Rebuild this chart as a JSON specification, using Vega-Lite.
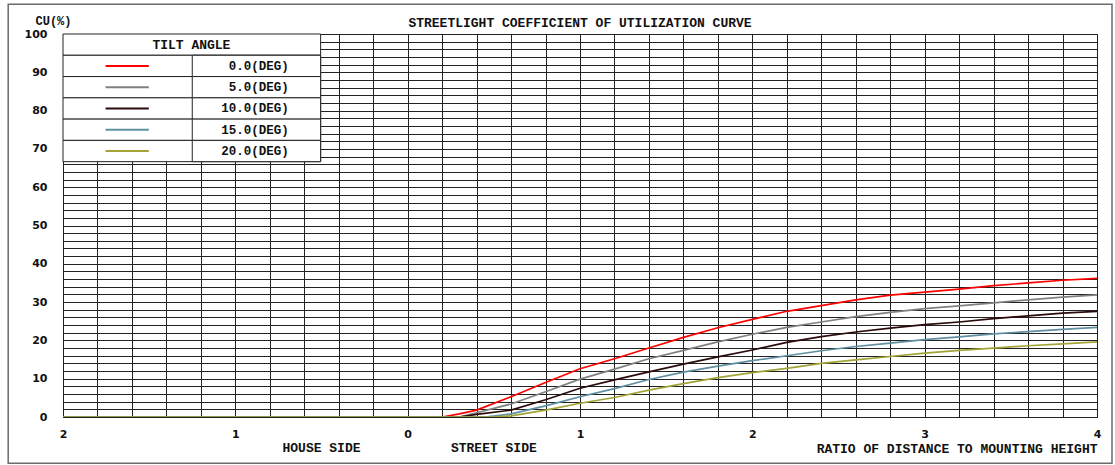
{
  "$schema": "https://vega.github.io/schema/vega-lite/v6.json",
  "width": 1034,
  "height": 383,
  "autosize": {"type": "none"},
  "padding": {"left": 63, "top": 34, "right": 18, "bottom": 48},
  "background": "white",
  "title": {
    "text": "STREETLIGHT COEFFICIENT OF UTILIZATION CURVE",
    "font": "Liberation Mono",
    "fontSize": 13,
    "fontWeight": "bold",
    "color": "#111",
    "anchor": "middle",
    "frame": "group",
    "offset": 4,
    "dy": 30.5
  },
  "datasets": {
    "curves": [
      {"angle": "0.0(DEG)", "d": -2, "cu": 0},
      {"angle": "0.0(DEG)", "d": 0.2, "cu": 0},
      {"angle": "0.0(DEG)", "d": 0.3, "cu": 0.8},
      {"angle": "0.0(DEG)", "d": 0.4, "cu": 1.8},
      {"angle": "0.0(DEG)", "d": 0.6, "cu": 5.3},
      {"angle": "0.0(DEG)", "d": 0.8, "cu": 9.0},
      {"angle": "0.0(DEG)", "d": 1.0, "cu": 12.6},
      {"angle": "0.0(DEG)", "d": 1.2, "cu": 15.2},
      {"angle": "0.0(DEG)", "d": 1.4, "cu": 18.0},
      {"angle": "0.0(DEG)", "d": 1.6, "cu": 20.8},
      {"angle": "0.0(DEG)", "d": 1.8, "cu": 23.3},
      {"angle": "0.0(DEG)", "d": 2.0, "cu": 25.5},
      {"angle": "0.0(DEG)", "d": 2.2, "cu": 27.6},
      {"angle": "0.0(DEG)", "d": 2.4, "cu": 29.1},
      {"angle": "0.0(DEG)", "d": 2.6, "cu": 30.6},
      {"angle": "0.0(DEG)", "d": 2.8, "cu": 31.8},
      {"angle": "0.0(DEG)", "d": 3.0, "cu": 32.6},
      {"angle": "0.0(DEG)", "d": 3.2, "cu": 33.4},
      {"angle": "0.0(DEG)", "d": 3.4, "cu": 34.3},
      {"angle": "0.0(DEG)", "d": 3.6, "cu": 35.0},
      {"angle": "0.0(DEG)", "d": 3.8, "cu": 35.7},
      {"angle": "0.0(DEG)", "d": 4.0, "cu": 36.2},
      {"angle": "5.0(DEG)", "d": -2, "cu": 0},
      {"angle": "5.0(DEG)", "d": 0.3, "cu": 0},
      {"angle": "5.0(DEG)", "d": 0.4, "cu": 1.1},
      {"angle": "5.0(DEG)", "d": 0.6, "cu": 3.4},
      {"angle": "5.0(DEG)", "d": 0.8, "cu": 6.6},
      {"angle": "5.0(DEG)", "d": 1.0, "cu": 9.9},
      {"angle": "5.0(DEG)", "d": 1.2, "cu": 12.5},
      {"angle": "5.0(DEG)", "d": 1.4, "cu": 15.2},
      {"angle": "5.0(DEG)", "d": 1.6, "cu": 17.4},
      {"angle": "5.0(DEG)", "d": 1.8, "cu": 19.6},
      {"angle": "5.0(DEG)", "d": 2.0, "cu": 21.6},
      {"angle": "5.0(DEG)", "d": 2.2, "cu": 23.4},
      {"angle": "5.0(DEG)", "d": 2.4, "cu": 24.8},
      {"angle": "5.0(DEG)", "d": 2.6, "cu": 26.2},
      {"angle": "5.0(DEG)", "d": 2.8, "cu": 27.3},
      {"angle": "5.0(DEG)", "d": 3.0, "cu": 28.3},
      {"angle": "5.0(DEG)", "d": 3.2, "cu": 29.0},
      {"angle": "5.0(DEG)", "d": 3.4, "cu": 29.8},
      {"angle": "5.0(DEG)", "d": 3.6, "cu": 30.6},
      {"angle": "5.0(DEG)", "d": 3.8, "cu": 31.3},
      {"angle": "5.0(DEG)", "d": 4.0, "cu": 31.9},
      {"angle": "10.0(DEG)", "d": -2, "cu": 0},
      {"angle": "10.0(DEG)", "d": 0.3, "cu": 0},
      {"angle": "10.0(DEG)", "d": 0.4, "cu": 0.7},
      {"angle": "10.0(DEG)", "d": 0.6, "cu": 1.8},
      {"angle": "10.0(DEG)", "d": 0.8, "cu": 4.5},
      {"angle": "10.0(DEG)", "d": 1.0, "cu": 7.5},
      {"angle": "10.0(DEG)", "d": 1.2, "cu": 9.7},
      {"angle": "10.0(DEG)", "d": 1.4, "cu": 11.8},
      {"angle": "10.0(DEG)", "d": 1.6, "cu": 13.8},
      {"angle": "10.0(DEG)", "d": 1.8, "cu": 15.7},
      {"angle": "10.0(DEG)", "d": 2.0, "cu": 17.5},
      {"angle": "10.0(DEG)", "d": 2.2, "cu": 19.5},
      {"angle": "10.0(DEG)", "d": 2.4, "cu": 21.0},
      {"angle": "10.0(DEG)", "d": 2.6, "cu": 22.2},
      {"angle": "10.0(DEG)", "d": 2.8, "cu": 23.2},
      {"angle": "10.0(DEG)", "d": 3.0, "cu": 24.1},
      {"angle": "10.0(DEG)", "d": 3.2, "cu": 24.8},
      {"angle": "10.0(DEG)", "d": 3.4, "cu": 25.7},
      {"angle": "10.0(DEG)", "d": 3.6, "cu": 26.4},
      {"angle": "10.0(DEG)", "d": 3.8, "cu": 27.1},
      {"angle": "10.0(DEG)", "d": 4.0, "cu": 27.6},
      {"angle": "15.0(DEG)", "d": -2, "cu": 0},
      {"angle": "15.0(DEG)", "d": 0.45, "cu": 0},
      {"angle": "15.0(DEG)", "d": 0.6, "cu": 0.8},
      {"angle": "15.0(DEG)", "d": 0.8, "cu": 2.9},
      {"angle": "15.0(DEG)", "d": 1.0, "cu": 5.3},
      {"angle": "15.0(DEG)", "d": 1.2, "cu": 7.4},
      {"angle": "15.0(DEG)", "d": 1.4, "cu": 9.8},
      {"angle": "15.0(DEG)", "d": 1.6, "cu": 11.7},
      {"angle": "15.0(DEG)", "d": 1.8, "cu": 13.3},
      {"angle": "15.0(DEG)", "d": 2.0, "cu": 14.7},
      {"angle": "15.0(DEG)", "d": 2.2, "cu": 16.0},
      {"angle": "15.0(DEG)", "d": 2.4, "cu": 17.3},
      {"angle": "15.0(DEG)", "d": 2.6, "cu": 18.4},
      {"angle": "15.0(DEG)", "d": 2.8, "cu": 19.3},
      {"angle": "15.0(DEG)", "d": 3.0, "cu": 20.2},
      {"angle": "15.0(DEG)", "d": 3.2, "cu": 20.9},
      {"angle": "15.0(DEG)", "d": 3.4, "cu": 21.7},
      {"angle": "15.0(DEG)", "d": 3.6, "cu": 22.3},
      {"angle": "15.0(DEG)", "d": 3.8, "cu": 22.9},
      {"angle": "15.0(DEG)", "d": 4.0, "cu": 23.4},
      {"angle": "20.0(DEG)", "d": -2, "cu": 0},
      {"angle": "20.0(DEG)", "d": 0.5, "cu": 0},
      {"angle": "20.0(DEG)", "d": 0.6, "cu": 0.3},
      {"angle": "20.0(DEG)", "d": 0.8, "cu": 1.8},
      {"angle": "20.0(DEG)", "d": 1.0, "cu": 3.6},
      {"angle": "20.0(DEG)", "d": 1.2, "cu": 5.1},
      {"angle": "20.0(DEG)", "d": 1.4, "cu": 7.0},
      {"angle": "20.0(DEG)", "d": 1.6, "cu": 8.7},
      {"angle": "20.0(DEG)", "d": 1.8, "cu": 10.3},
      {"angle": "20.0(DEG)", "d": 2.0, "cu": 11.6},
      {"angle": "20.0(DEG)", "d": 2.2, "cu": 12.7},
      {"angle": "20.0(DEG)", "d": 2.4, "cu": 14.0},
      {"angle": "20.0(DEG)", "d": 2.6, "cu": 14.9},
      {"angle": "20.0(DEG)", "d": 2.8, "cu": 15.8},
      {"angle": "20.0(DEG)", "d": 3.0, "cu": 16.7},
      {"angle": "20.0(DEG)", "d": 3.2, "cu": 17.4},
      {"angle": "20.0(DEG)", "d": 3.4, "cu": 18.0},
      {"angle": "20.0(DEG)", "d": 3.6, "cu": 18.6},
      {"angle": "20.0(DEG)", "d": 3.8, "cu": 19.1},
      {"angle": "20.0(DEG)", "d": 4.0, "cu": 19.6}
    ],
    "legendRows": [
      {"angle": "0.0(DEG)"},
      {"angle": "5.0(DEG)"},
      {"angle": "10.0(DEG)"},
      {"angle": "15.0(DEG)"},
      {"angle": "20.0(DEG)"}
    ]
  },
  "config": {
    "view": {"stroke": "#222", "strokeWidth": 1},
    "axis": {
      "gridColor": "#222",
      "gridWidth": 1,
      "gridOpacity": 1,
      "ticks": false,
      "domain": false,
      "labelFont": "DejaVu Sans",
      "labelFontWeight": "bold",
      "labelFontSize": 11,
      "labelColor": "#111",
      "labelOverlap": false,
      "labelFlush": false,
      "titleFont": "Liberation Mono",
      "titleFontWeight": "bold",
      "titleFontSize": 13,
      "titleColor": "#111"
    },
    "axisX": {"tickCount": 30},
    "axisY": {"tickCount": 50}
  },
  "layer": [
    {
      "layer": [
        {
          "data": {"name": "curves"},
          "mark": {"type": "line", "strokeWidth": 1.7, "clip": true},
          "encoding": {
            "x": {
              "field": "d",
              "type": "quantitative",
              "scale": {"domain": [-2, 4], "nice": false, "zero": false},
              "axis": {
                "tickCount": 30,
                "labelExpr": "abs(datum.value - round(datum.value)) < 0.001 ? format(abs(datum.value), 'd') : ''",
                "labelPadding": 11,
                "grid": true,
                "title": "RATIO OF DISTANCE TO MOUNTING HEIGHT",
                "titleAnchor": "end",
                "titleAlign": "right",
                "titleBaseline": "middle",
                "titleY": 31,
                "titleX": 1034
              }
            },
            "y": {
              "field": "cu",
              "type": "quantitative",
              "scale": {"domain": [0, 100], "nice": false, "zero": false},
              "axis": {
                "tickCount": 50,
                "labelExpr": "abs(datum.value / 10 - round(datum.value / 10)) < 0.001 ? format(datum.value, 'd') : ''",
                "labelPadding": 16,
                "grid": true,
                "title": "CU(%)",
                "titleFontSize": 12,
                "titleAngle": 0,
                "titleAlign": "left",
                "titleBaseline": "middle",
                "titleX": -28,
                "titleY": -14
              }
            },
            "color": {
              "field": "angle",
              "type": "nominal",
              "scale": {
                "domain": ["0.0(DEG)", "5.0(DEG)", "10.0(DEG)", "15.0(DEG)", "20.0(DEG)"],
                "range": ["#ff0000", "#808080", "#2a0a0a", "#5f8fa0", "#a3a338"]
              },
              "legend": null
            }
          }
        },
        {
          "data": {"values": [{}]},
          "mark": {"type": "rect", "fillOpacity": 0, "stroke": "#6b6b6b", "strokeWidth": 1.5},
          "encoding": {
            "x": {"datum": -2.318, "type": "quantitative"},
            "x2": {"datum": 4.087},
            "y": {"datum": 107.8, "type": "quantitative"},
            "y2": {"datum": -12.1}
          }
        },
        {
          "data": {"values": [{}]},
          "mark": {"type": "text", "font": "Liberation Mono", "fontWeight": "bold", "fontSize": 13, "color": "#111", "align": "center", "baseline": "middle"},
          "encoding": {
            "x": {"datum": -0.5, "type": "quantitative"},
            "y": {"datum": -8.2, "type": "quantitative"},
            "text": {"value": "HOUSE SIDE"}
          }
        },
        {
          "data": {"values": [{}]},
          "mark": {"type": "text", "font": "Liberation Mono", "fontWeight": "bold", "fontSize": 13, "color": "#111", "align": "center", "baseline": "middle"},
          "encoding": {
            "x": {"datum": 0.5, "type": "quantitative"},
            "y": {"datum": -8.2, "type": "quantitative"},
            "text": {"value": "STREET SIDE"}
          }
        }
      ]
    },
    {
      "layer": [
        {
          "data": {"values": [{}]},
          "mark": {"type": "rect", "fill": "white", "stroke": "#222", "strokeWidth": 1},
          "encoding": {
            "x": {"datum": -2, "type": "quantitative"},
            "x2": {"datum": -0.505},
            "y": {
              "datum": "TILT ANGLE",
              "type": "ordinal",
              "scale": {
                "domain": ["TILT ANGLE", "0.0(DEG)", "5.0(DEG)", "10.0(DEG)", "15.0(DEG)", "20.0(DEG)", "_r7", "_r8", "_r9", "_r10", "_r11", "_r12", "_r13", "_r14", "_r15", "_r16", "_r17", "_r18"],
                "paddingInner": 0,
                "paddingOuter": 0
              },
              "axis": null
            }
          }
        },
        {
          "data": {"name": "legendRows"},
          "mark": {"type": "rect", "fill": "white", "stroke": "#222", "strokeWidth": 1},
          "encoding": {
            "x": {"datum": -2, "type": "quantitative"},
            "x2": {"datum": -0.505},
            "y": {"field": "angle", "type": "ordinal", "axis": null}
          }
        },
        {
          "data": {"name": "legendRows"},
          "mark": {"type": "rect", "fill": "white", "stroke": "#222", "strokeWidth": 1},
          "encoding": {
            "x": {"datum": -1.25, "type": "quantitative"},
            "x2": {"datum": -0.505},
            "y": {"field": "angle", "type": "ordinal", "axis": null}
          }
        },
        {
          "data": {"name": "legendRows"},
          "mark": {"type": "rule", "strokeWidth": 2},
          "encoding": {
            "x": {"datum": -1.753, "type": "quantitative"},
            "x2": {"datum": -1.502},
            "y": {"field": "angle", "type": "ordinal", "axis": null},
            "color": {"field": "angle", "type": "nominal", "legend": null}
          }
        },
        {
          "data": {"name": "legendRows"},
          "mark": {"type": "text", "font": "Liberation Mono", "fontWeight": "bold", "fontSize": 12.5, "color": "#111", "align": "right", "baseline": "middle"},
          "encoding": {
            "x": {"datum": -0.69, "type": "quantitative"},
            "y": {"field": "angle", "type": "ordinal", "axis": null},
            "text": {"field": "angle"}
          }
        },
        {
          "data": {"values": [{}]},
          "mark": {"type": "text", "font": "Liberation Mono", "fontWeight": "bold", "fontSize": 13, "color": "#111", "align": "center", "baseline": "middle"},
          "encoding": {
            "x": {"datum": -1.255, "type": "quantitative"},
            "y": {"datum": "TILT ANGLE", "type": "ordinal", "axis": null},
            "text": {"value": "TILT ANGLE"}
          }
        }
      ]
    }
  ],
  "resolve": {"scale": {"y": "independent"}}
}
